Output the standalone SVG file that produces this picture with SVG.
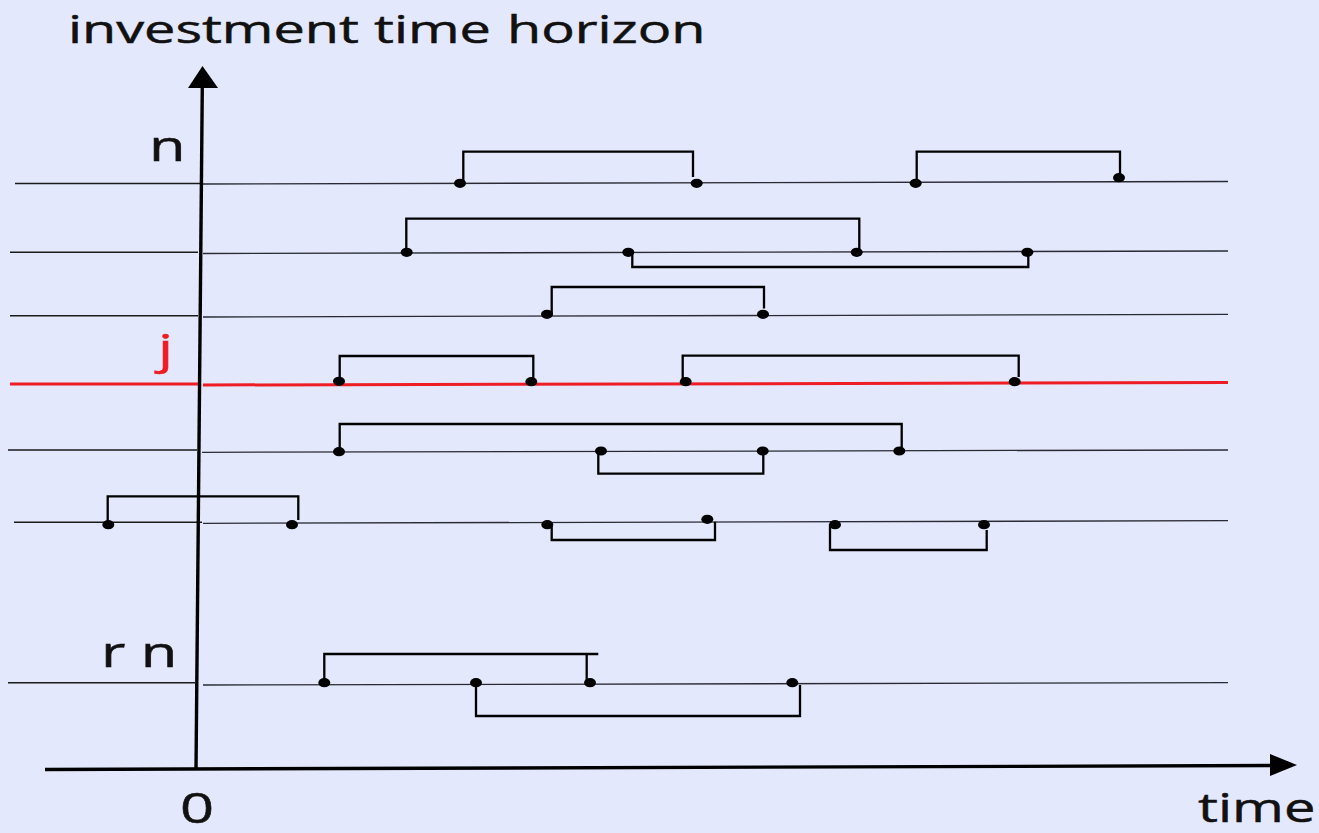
<svg xmlns="http://www.w3.org/2000/svg" width="1319" height="833" viewBox="0 0 1319 833">
  <style>
    .lbl { font-family: "Open Sans", "Liberation Sans", sans-serif; font-size: 42px; fill: #111; stroke: #111; stroke-width: 0.5; }
    .lead { stroke: #1a1a1a; stroke-width: 1.6; fill: none; }
    .track { stroke: #2a2a35; stroke-width: 1.3; fill: none; }
    .red { stroke: #ee1c24; stroke-width: 3; fill: none; }
    .br { stroke: #000; stroke-width: 2.3; fill: none; stroke-linejoin: miter; }
    .dot { fill: #000; }
    .axis { stroke: #000; stroke-width: 3.4; fill: none; }
  </style>
  <rect x="0" y="0" width="1319" height="833" fill="#e4e8fc"/>

  <!-- labels (font stretched horizontally) -->
  <g id="labels">
    <text class="lbl" style="font-size:39px" transform="translate(68,43) scale(1.43,1)"><tspan x="0">investment </tspan><tspan x="214">time </tspan><tspan x="307">horizon</tspan></text>
    <text class="lbl" transform="translate(149,161) scale(1.42,1)">n</text>
    <text class="lbl" style="fill:#ee1c24; stroke:#ee1c24" transform="translate(158,364) scale(1.42,1)">j</text>
    <text class="lbl" transform="translate(101,667) scale(1.42,1)">r n</text>
    <text class="lbl" transform="translate(180,823) scale(1.42,1)">0</text>
    <text class="lbl" style="font-size:40px" transform="translate(1198,822) scale(1.40,1)">time</text>
  </g>

  <!-- horizontal tracks -->
  <g id="tracks">
    <line class="lead" x1="15" y1="183.5" x2="200" y2="183.5"/>
    <line class="track" x1="203" y1="184" x2="1228" y2="181.5"/>
    <line class="lead" x1="10" y1="252.3" x2="198" y2="252.3"/>
    <line class="track" x1="203" y1="253.5" x2="1228" y2="251"/>
    <line class="lead" x1="10" y1="315.7" x2="198" y2="315.7"/>
    <line class="track" x1="203" y1="317" x2="1228" y2="314.3"/>
    <line class="red" x1="10" y1="384" x2="198" y2="384"/>
    <line class="red" x1="203" y1="385" x2="1228" y2="382.5"/>
    <line class="lead" x1="8" y1="450" x2="197" y2="450"/>
    <line class="track" x1="202" y1="452.3" x2="1228" y2="450"/>
    <line class="lead" x1="14" y1="522.3" x2="202" y2="522.3"/>
    <line class="track" x1="203" y1="523.3" x2="1228" y2="520.7"/>
    <line class="lead" x1="8" y1="682.7" x2="195" y2="682.7"/>
    <line class="track" x1="203" y1="685" x2="1228" y2="682.7"/>
  </g>

  <!-- axes -->
  <g id="axes">
    <line class="axis" x1="196" y1="770" x2="202.3" y2="86"/>
    <polygon points="202.5,66 188,88 218,88" fill="#000"/>
    <line class="axis" x1="45" y1="769.5" x2="1272" y2="765.5"/>
    <polygon points="1297,765 1270,754 1270,776" fill="#000"/>
  </g>

  <!-- holding periods -->
  <g id="periods">
    <!-- row n -->
    <g id="row-n">
      <polyline class="br" points="463.3,183 463.3,151.7 693,151.7 693,177"/>
      <ellipse class="dot" cx="460" cy="183.3" rx="6" ry="4.6"/>
      <ellipse class="dot" cx="696.7" cy="183.3" rx="6" ry="4.6"/>
      <polyline class="br" points="916.7,183 916.7,151.7 1120,151.7 1120,177.7"/>
      <ellipse class="dot" cx="915.7" cy="183.3" rx="6" ry="4.6"/>
      <ellipse class="dot" cx="1119" cy="177.7" rx="6" ry="4.6"/>
    </g>
    <!-- row 2 -->
    <g id="row-2">
      <polyline class="br" points="406.3,252 406.3,218.7 859.3,218.7 859.3,252"/>
      <ellipse class="dot" cx="406.7" cy="252.3" rx="6" ry="4.6"/>
      <ellipse class="dot" cx="856.7" cy="252.3" rx="6" ry="4.6"/>
      <polyline class="br" points="632.3,252 632.3,267 1028.3,267 1028.3,252"/>
      <ellipse class="dot" cx="628.3" cy="252.3" rx="6" ry="4.6"/>
      <ellipse class="dot" cx="1027.3" cy="252.3" rx="6" ry="4.6"/>
    </g>
    <!-- row 3 -->
    <g id="row-3">
      <polyline class="br" points="551.7,314 551.7,287 764,287 764,308.5"/>
      <ellipse class="dot" cx="547" cy="314.3" rx="6" ry="4.6"/>
      <ellipse class="dot" cx="763" cy="314.3" rx="6" ry="4.6"/>
    </g>
    <!-- row j -->
    <g id="row-j">
      <polyline class="br" points="339.7,381 339.7,356 533.3,356 533.3,381"/>
      <ellipse class="dot" cx="339" cy="381.3" rx="6" ry="4.6"/>
      <ellipse class="dot" cx="531.3" cy="381.7" rx="6" ry="4.6"/>
      <polyline class="br" points="682.7,381 682.7,355.7 1018.7,355.7 1018.7,377"/>
      <ellipse class="dot" cx="685.7" cy="381.7" rx="6" ry="4.6"/>
      <ellipse class="dot" cx="1014.7" cy="381.7" rx="6" ry="4.6"/>
    </g>
    <!-- row 5 -->
    <g id="row-5">
      <polyline class="br" points="339.7,451 339.7,424 901.7,424 901.7,451"/>
      <ellipse class="dot" cx="339" cy="451.7" rx="6" ry="4.6"/>
      <ellipse class="dot" cx="899.3" cy="451" rx="6" ry="4.6"/>
      <polyline class="br" points="598.3,451 598.3,473.7 763.3,473.7 763.3,451"/>
      <ellipse class="dot" cx="601" cy="451" rx="6" ry="4.6"/>
      <ellipse class="dot" cx="762.7" cy="451" rx="6" ry="4.6"/>
    </g>
    <!-- row 6 -->
    <g id="row-6">
      <polyline class="br" points="107.7,524 107.7,496.3 298.3,496.3 298.3,520"/>
      <ellipse class="dot" cx="108.3" cy="524.7" rx="6" ry="4.6"/>
      <ellipse class="dot" cx="292" cy="524.7" rx="6" ry="4.6"/>
      <polyline class="br" points="551.7,524 551.7,540 715,540 715,521.7"/>
      <ellipse class="dot" cx="547.3" cy="524.7" rx="6" ry="4.6"/>
      <ellipse class="dot" cx="707.3" cy="519.3" rx="6" ry="4.6"/>
      <polyline class="br" points="830,524 830,550 986.7,550 986.7,530"/>
      <ellipse class="dot" cx="835" cy="524.7" rx="6" ry="4.6"/>
      <ellipse class="dot" cx="984" cy="524.7" rx="6" ry="4.6"/>
    </g>
    <!-- row r n -->
    <g id="row-rn">
      <polyline class="br" points="324.3,682.7 324.3,654 598.3,654"/>
      <line class="br" x1="586.7" y1="654" x2="586.7" y2="682.7"/>
      <ellipse class="dot" cx="324.3" cy="682.7" rx="6" ry="4.6"/>
      <ellipse class="dot" cx="590" cy="682.7" rx="6" ry="4.6"/>
      <polyline class="br" points="476,682.7 476,716 800,716 800,685"/>
      <ellipse class="dot" cx="476" cy="682.7" rx="6" ry="4.6"/>
      <ellipse class="dot" cx="792.3" cy="682.7" rx="6" ry="4.6"/>
    </g>
  </g>
</svg>
